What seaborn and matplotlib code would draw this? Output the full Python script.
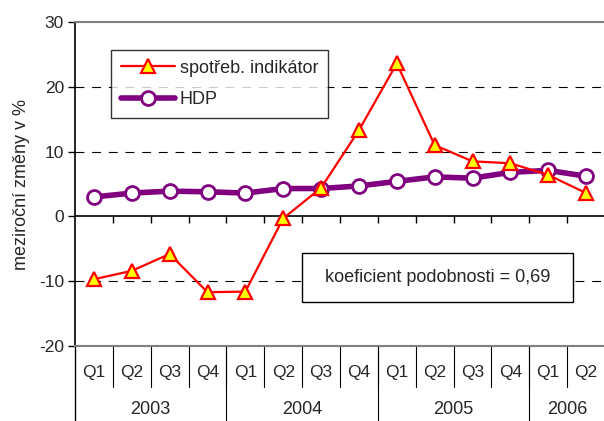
import matplotlib
matplotlib.use("Agg")
import matplotlib.pyplot as plt
from matplotlib.patches import Rectangle
import seaborn as sns
import pandas as pd

quarters = ["Q1", "Q2", "Q3", "Q4", "Q1", "Q2", "Q3", "Q4",
            "Q1", "Q2", "Q3", "Q4", "Q1", "Q2"]
years = ["2003", "2004", "2005", "2006"]
year_counts = [4, 4, 4, 2]
spotreb = [-9.7, -8.4, -5.8, -11.7, -11.6, -0.3, 4.4, 13.3,
           23.6, 11.0, 8.5, 8.2, 6.4, 3.6]
hdp = [3.0, 3.6, 3.9, 3.8, 3.6, 4.3, 4.3, 4.7,
       5.4, 6.1, 5.9, 6.8, 7.1, 6.2]
grid_values = [-10, 10, 20]

sns.set_style("white")
plt.rcParams["font.family"] = ["Liberation Sans", "DejaVu Sans"]
plt.rcParams["axes.unicode_minus"] = False

df = pd.DataFrame({"pos": range(len(quarters)), "spotreb": spotreb, "hdp": hdp})

fig = plt.figure(figsize=(6.04, 4.21), dpi=100)
ax = fig.add_axes([75 / 604, 75 / 421, 530 / 604, 324 / 421])

for g in grid_values:
    ax.axhline(g, color="black", lw=0.8, dashes=(8, 7), zorder=1)
ax.axhline(0, color="black", lw=1.2, zorder=2)
bounds = [i - 0.5 for i in range(len(quarters) + 1)]
ax.vlines(bounds[1:], -1.0, 0, color="black", lw=1, zorder=2)

sns.lineplot(data=df, x="pos", y="spotreb", ax=ax, color="red", lw=1.6,
             marker="^", markersize=10, markerfacecolor="yellow",
             markeredgecolor="red", markeredgewidth=1.6,
             label="spotřeb. indikátor", zorder=4)
sns.lineplot(data=df, x="pos", y="hdp", ax=ax, color="#800080", lw=4,
             marker="o", markersize=10, markerfacecolor="white",
             markeredgecolor="#800080", markeredgewidth=2,
             label="HDP", zorder=3)

ax.set_xlim(-0.5, len(quarters) - 0.5)
ax.set_ylim(-20, 30)
ax.set_yticks([-20, -10, 0, 10, 20, 30])
ax.set_xticks([])
ax.set_xlabel("")
ax.set_ylabel("meziroční změny v %", fontsize=13, labelpad=6)
ax.tick_params(axis="y", labelsize=12.5, length=5, width=1, color="black",
               direction="out", left=True, pad=3)

for side in ["top", "bottom"]:
    ax.spines[side].set_color("#808080")
    ax.spines[side].set_linewidth(1.5)
ax.spines["left"].set_color("black")
ax.spines["left"].set_linewidth(1.2)
ax.spines["right"].set_visible(False)

leg = ax.legend(loc="upper left", bbox_to_anchor=(0.068, 0.914), fontsize=13,
                frameon=True, fancybox=False, edgecolor="black",
                handlelength=3.0, handletextpad=0.25, labelspacing=0.8,
                borderpad=0.55, borderaxespad=0)
leg.get_frame().set_linewidth(1)

# koeficient box
ax.add_patch(Rectangle(((302 - 75) / 530, (346 - 302) / 324), 271 / 530, 49 / 324,
                       transform=ax.transAxes, fill=True, facecolor="white",
                       edgecolor="black", lw=1, zorder=5))
ax.text((437.5 - 75) / 530, (346 - 277.5) / 324, "koeficient podobnosti = 0,69",
        transform=ax.transAxes, ha="center", va="center", fontsize=13, zorder=6)

# category axis below plot
trans = ax.get_xaxis_transform()
q_y = -(373 - 346) / 324
y_y = -(410 - 346) / 324
q_sep = -(387 - 346) / 324
for i, q in enumerate(quarters):
    ax.text(i, q_y, q, transform=trans, ha="center", va="center", fontsize=12.5)
for b in bounds[1:]:
    ax.plot([b, b], [0, q_sep], transform=trans, color="black", lw=0.8,
            clip_on=False)
start = 0
ax.plot([-0.5, -0.5], [0, -80 / 324], transform=trans, color="black", lw=1,
        clip_on=False)
for yr, n in zip(years, year_counts):
    ax.text(start + (n - 1) / 2, y_y, yr, transform=trans, ha="center",
            va="center", fontsize=13)
    end = start + n - 0.5
    ax.plot([end, end], [0, -80 / 324], transform=trans, color="black", lw=0.8,
            clip_on=False)
    start += n

plt.savefig("out.png", dpi=100)
